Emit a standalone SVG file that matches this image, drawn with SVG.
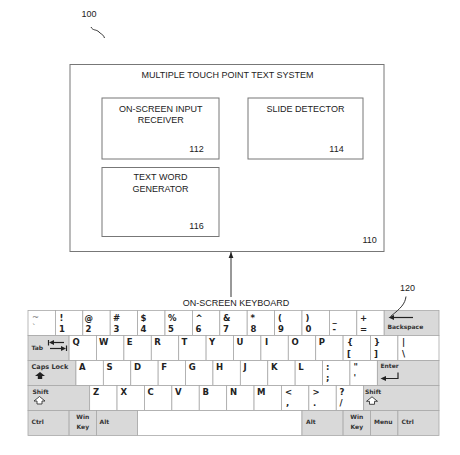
<svg xmlns="http://www.w3.org/2000/svg" width="460" height="455" viewBox="0 0 460 455">
<defs>
<style>
.lbl{font-family:"Liberation Sans",Arial,sans-serif;font-size:9px;fill:#222}
.box{fill:#fff;stroke:#777;stroke-width:1}
.w{fill:#fff;stroke:#a8a8a8;stroke-width:0.8}
.g{fill:#d9d9d9;stroke:#a8a8a8;stroke-width:0.8}
.t{font-family:"DejaVu Sans",Verdana,sans-serif;font-weight:bold;font-size:8.5px;fill:#222}
.s{font-family:"DejaVu Sans",Verdana,sans-serif;font-weight:bold;font-size:6px;fill:#333}
.ln{fill:none;stroke:#333;stroke-width:1}
.ic{fill:none;stroke:#222;stroke-width:1.2}
</style>
<marker id="ah" viewBox="0 0 10 10" refX="10" refY="5" markerWidth="6" markerHeight="6" orient="auto">
<path d="M0,1 L10,5 L0,9 z" fill="#222"/>
</marker>
</defs>
<rect width="460" height="455" fill="#fff"/>

<g id="ref100">
<text class="lbl" x="81.5" y="17">100</text>
<path class="ln" d="M91,27 C93,31 96,29 99,32 S103,34 104.5,38"/>
</g>

<g id="system110">
<rect class="box" x="70" y="64.5" width="314" height="187"/>
<text class="lbl" x="227.5" y="77.5" text-anchor="middle">MULTIPLE TOUCH POINT TEXT SYSTEM</text>
<text class="lbl" x="362.5" y="242.5">110</text>
</g>

<g id="receiver112">
<rect class="box" x="102" y="98" width="117" height="61"/>
<text class="lbl" x="160.8" y="111.8" text-anchor="middle">ON-SCREEN INPUT</text>
<text class="lbl" x="160.8" y="122.8" text-anchor="middle">RECEIVER</text>
<text class="lbl" x="189.3" y="151.8">112</text>
</g>

<g id="slide114">
<rect class="box" x="248" y="98" width="115" height="61"/>
<text class="lbl" x="305.5" y="111.8" text-anchor="middle">SLIDE DETECTOR</text>
<text class="lbl" x="329.3" y="151.8">114</text>
</g>

<g id="generator116">
<rect class="box" x="102" y="167.5" width="117" height="69"/>
<text class="lbl" x="160.5" y="180" text-anchor="middle">TEXT WORD</text>
<text class="lbl" x="160.5" y="191.8" text-anchor="middle">GENERATOR</text>
<text class="lbl" x="189.3" y="228.5">116</text>
</g>

<g id="keyboard120">
<text class="lbl" x="236" y="306" text-anchor="middle">ON-SCREEN KEYBOARD</text>
<text class="lbl" x="400" y="291">120</text>
<!-- row 1 -->
<rect class="w" x="28" y="310.5" width="27.4" height="25"/>
<rect class="w" x="55.4" y="310.5" width="27.4" height="25"/>
<rect class="w" x="82.8" y="310.5" width="27.4" height="25"/>
<rect class="w" x="110.2" y="310.5" width="27.4" height="25"/>
<rect class="w" x="137.6" y="310.5" width="27.4" height="25"/>
<rect class="w" x="165" y="310.5" width="27.4" height="25"/>
<rect class="w" x="192.4" y="310.5" width="27.4" height="25"/>
<rect class="w" x="219.8" y="310.5" width="27.4" height="25"/>
<rect class="w" x="247.2" y="310.5" width="27.4" height="25"/>
<rect class="w" x="274.6" y="310.5" width="27.4" height="25"/>
<rect class="w" x="302" y="310.5" width="27.4" height="25"/>
<rect class="w" x="329.4" y="310.5" width="27.4" height="25"/>
<rect class="w" x="356.8" y="310.5" width="27.4" height="25"/>
<rect class="g" x="384.2" y="310.5" width="54.8" height="25"/>
<text class="t" x="32" y="320" style="font-weight:normal;fill:#777">~</text>
<text class="t" x="32" y="331" style="font-weight:normal;fill:#777">`</text>
<text class="t" x="59.5" y="320.5">!</text><text class="t" x="59" y="331.5">1</text>
<text class="t" x="84.5" y="320.5">@</text><text class="t" x="85.5" y="331.5">2</text>
<text class="t" x="113" y="320.5">#</text><text class="t" x="113.5" y="331.5">3</text>
<text class="t" x="140.5" y="320.5">$</text><text class="t" x="140.5" y="331.5">4</text>
<text class="t" x="168" y="320.5">%</text><text class="t" x="168" y="331.5">5</text>
<text class="t" x="195.5" y="320.5">^</text><text class="t" x="195.5" y="331.5">6</text>
<text class="t" x="223" y="320.5">&amp;</text><text class="t" x="223" y="331.5">7</text>
<text class="t" x="250.5" y="320.5">*</text><text class="t" x="250.5" y="331.5">8</text>
<text class="t" x="278" y="320.5">(</text><text class="t" x="278" y="331.5">9</text>
<text class="t" x="305.5" y="320.5">)</text><text class="t" x="305.5" y="331.5">0</text>
<text class="t" x="332.5" y="322">_</text><text class="t" x="332.5" y="331.5">-</text>
<text class="t" x="360" y="320.5">+</text><text class="t" x="360" y="331.5">=</text>
<line class="ic" x1="392" y1="317.5" x2="413" y2="317.5"/>
<path d="M388.5,317.5 L394,315 L394,320 z" fill="#222"/>
<text class="s" x="387.5" y="328.5">Backspace</text>
<!-- row 2 -->
<rect class="g" x="28" y="335.5" width="41.1" height="25"/>
<rect class="w" x="69.1" y="335.5" width="27.4" height="25"/>
<rect class="w" x="96.5" y="335.5" width="27.4" height="25"/>
<rect class="w" x="123.9" y="335.5" width="27.4" height="25"/>
<rect class="w" x="151.3" y="335.5" width="27.4" height="25"/>
<rect class="w" x="178.7" y="335.5" width="27.4" height="25"/>
<rect class="w" x="206.1" y="335.5" width="27.4" height="25"/>
<rect class="w" x="233.5" y="335.5" width="27.4" height="25"/>
<rect class="w" x="260.9" y="335.5" width="27.4" height="25"/>
<rect class="w" x="288.3" y="335.5" width="27.4" height="25"/>
<rect class="w" x="315.7" y="335.5" width="27.4" height="25"/>
<rect class="w" x="343.1" y="335.5" width="27.4" height="25"/>
<rect class="w" x="370.5" y="335.5" width="27.4" height="25"/>
<rect class="w" x="397.9" y="335.5" width="41.1" height="25"/>
<text class="s" x="31.5" y="350">Tab</text>
<line class="ic" x1="48.5" y1="340" x2="48.5" y2="345.5"/>
<line class="ic" x1="51" y1="342.5" x2="64" y2="342.5"/>
<path d="M49,342.5 L54,340 L54,345 z" fill="#222"/>
<line class="ic" x1="66.5" y1="345.5" x2="66.5" y2="351"/>
<line class="ic" x1="50" y1="348.5" x2="63" y2="348.5"/>
<path d="M66,348.5 L61,346 L61,351 z" fill="#222"/>
<text class="t" x="72.5" y="344.5">Q</text>
<text class="t" x="99" y="344.5">W</text>
<text class="t" x="126.8" y="344.5">E</text>
<text class="t" x="154.3" y="344.5">R</text>
<text class="t" x="181.5" y="344.5">T</text>
<text class="t" x="209" y="344.5">Y</text>
<text class="t" x="236.5" y="344.5">U</text>
<text class="t" x="265" y="344.5">I</text>
<text class="t" x="291.5" y="344.5">O</text>
<text class="t" x="318.7" y="344.5">P</text>
<text class="t" x="347" y="345">{</text><text class="t" x="347" y="356.5">[</text>
<text class="t" x="374" y="345">}</text><text class="t" x="374" y="356.5">]</text>
<text class="t" x="402" y="345">|</text><text class="t" x="402" y="356.5">\</text>
<!-- row 3 -->
<rect class="g" x="28" y="360.5" width="47.95" height="25"/>
<rect class="w" x="75.95" y="360.5" width="27.4" height="25"/>
<rect class="w" x="103.35" y="360.5" width="27.4" height="25"/>
<rect class="w" x="130.75" y="360.5" width="27.4" height="25"/>
<rect class="w" x="158.15" y="360.5" width="27.4" height="25"/>
<rect class="w" x="185.55" y="360.5" width="27.4" height="25"/>
<rect class="w" x="212.95" y="360.5" width="27.4" height="25"/>
<rect class="w" x="240.35" y="360.5" width="27.4" height="25"/>
<rect class="w" x="267.75" y="360.5" width="27.4" height="25"/>
<rect class="w" x="295.15" y="360.5" width="27.4" height="25"/>
<rect class="w" x="322.55" y="360.5" width="27.4" height="25"/>
<rect class="w" x="349.95" y="360.5" width="27.4" height="25"/>
<rect class="g" x="377.35" y="360.5" width="61.65" height="25"/>
<text class="s" x="31.5" y="368.8" style="font-size:6.5px">Caps Lock</text>
<path d="M40,372 L45,376 L42.2,376 L42.2,379 L37.8,379 L37.8,376 L35,376 z" fill="#222"/>
<text class="t" x="79" y="369.5">A</text>
<text class="t" x="106.5" y="369.5">S</text>
<text class="t" x="134" y="369.5">D</text>
<text class="t" x="161.3" y="369.5">F</text>
<text class="t" x="188.7" y="369.5">G</text>
<text class="t" x="216" y="369.5">H</text>
<text class="t" x="243.5" y="369.5">J</text>
<text class="t" x="271" y="369.5">K</text>
<text class="t" x="298.3" y="369.5">L</text>
<text class="t" x="326" y="370">:</text><text class="t" x="326" y="381">;</text>
<text class="t" x="353.5" y="370">"</text><text class="t" x="353.5" y="381">'</text>
<text class="s" x="380.5" y="367.5">Enter</text>
<path class="ic" d="M398,372.5 L398,378.5 L385,378.5"/>
<path d="M380.5,378.5 L386,376 L386,381 z" fill="#222"/>
<!-- row 4 -->
<rect class="g" x="28" y="385.5" width="61.65" height="25"/>
<rect class="w" x="89.65" y="385.5" width="27.4" height="25"/>
<rect class="w" x="117.05" y="385.5" width="27.4" height="25"/>
<rect class="w" x="144.45" y="385.5" width="27.4" height="25"/>
<rect class="w" x="171.85" y="385.5" width="27.4" height="25"/>
<rect class="w" x="199.25" y="385.5" width="27.4" height="25"/>
<rect class="w" x="226.65" y="385.5" width="27.4" height="25"/>
<rect class="w" x="254.05" y="385.5" width="27.4" height="25"/>
<rect class="w" x="281.45" y="385.5" width="27.4" height="25"/>
<rect class="w" x="308.85" y="385.5" width="27.4" height="25"/>
<rect class="w" x="336.25" y="385.5" width="27.4" height="25"/>
<rect class="g" x="363.65" y="385.5" width="75.35" height="25"/>
<text class="s" x="32.5" y="394">Shift</text>
<path d="M39.5,396.5 L45,401 L42,401 L42,404 L37,404 L37,401 L34,401 z" fill="#fff" stroke="#333" stroke-width="0.9"/>
<text class="t" x="93" y="394.5">Z</text>
<text class="t" x="120.5" y="394.5">X</text>
<text class="t" x="147.5" y="394.5">C</text>
<text class="t" x="175" y="394.5">V</text>
<text class="t" x="202.5" y="394.5">B</text>
<text class="t" x="230" y="394.5">N</text>
<text class="t" x="257" y="394.5">M</text>
<text class="t" x="285" y="394.5">&lt;</text><text class="t" x="286" y="406">,</text>
<text class="t" x="312.5" y="394.5">&gt;</text><text class="t" x="313" y="406">.</text>
<text class="t" x="339.5" y="394.5">?</text><text class="t" x="339.5" y="406">/</text>
<text class="s" x="365" y="394">Shift</text>
<path d="M372,396.8 L377.5,401.3 L374.5,401.3 L374.5,404.3 L369.5,404.3 L369.5,401.3 L366.5,401.3 z" fill="#fff" stroke="#333" stroke-width="0.9"/>
<!-- row 5 -->
<rect class="g" x="28" y="410.5" width="41.1" height="25"/>
<rect class="g" x="69.1" y="410.5" width="27.4" height="25"/>
<rect class="g" x="96.5" y="410.5" width="41.1" height="25"/>
<rect class="w" x="137.6" y="410.5" width="164.4" height="25"/>
<rect class="g" x="302" y="410.5" width="41.1" height="25"/>
<rect class="g" x="343.1" y="410.5" width="27.4" height="25"/>
<rect class="g" x="370.5" y="410.5" width="27.4" height="25"/>
<rect class="g" x="397.9" y="410.5" width="41.1" height="25"/>
<text class="s" x="31.5" y="423.5">Ctrl</text>
<text class="s" x="82.8" y="418.5" text-anchor="middle">Win</text>
<text class="s" x="82.8" y="428.5" text-anchor="middle">Key</text>
<text class="s" x="99.5" y="423.5">Alt</text>
<text class="s" x="306" y="423.5">Alt</text>
<text class="s" x="356.8" y="418.5" text-anchor="middle">Win</text>
<text class="s" x="356.8" y="428.5" text-anchor="middle">Key</text>
<text class="s" x="374" y="423.5">Menu</text>
<text class="s" x="401.5" y="423.5">Ctrl</text>
</g>

<g id="connectors">
<line class="ln" x1="231" y1="297" x2="231" y2="252" marker-end="url(#ah)"/>
<path class="ln" d="M406,296.5 C405,304 401,308 390.5,316.5"/>
</g>
</svg>
